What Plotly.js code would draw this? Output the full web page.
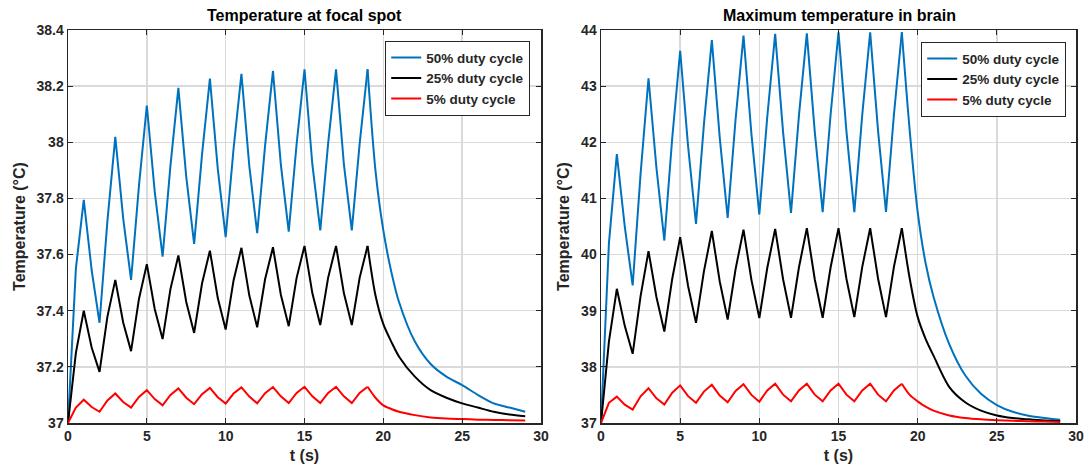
<!DOCTYPE html>
<html>
<head>
<meta charset="utf-8">
<script src="https://cdn.plot.ly/plotly-3.0.1.min.js"></script>
<style>html,body{margin:0;padding:0;background:#fff;}#chart{width:1085px;height:471px;}</style>
</head>
<body>
<div id="chart"></div>
<script>
// time (s)
const t = [0,0.5,1,1.5,2,2.5,3,3.5,4,4.5,5,5.5,6,6.5,7,7.5,8,8.5,9,9.5,10,10.5,11,11.5,12,12.5,13,13.5,14,14.5,15,15.5,16,16.5,17,17.5,18,18.5,19,19.5,20,20.5,21,22,23,24,25,26,27,28,29];
const pulseEnd = 19; // last heating peak (s)

// Temperature at focal spot
const focal50 = [37.00,37.55,37.795,37.545,37.357,37.72,38.019,37.729,37.51,37.845,38.131,37.824,37.593,37.918,38.194,37.877,37.638,37.956,38.227,37.905,37.662,37.976,38.244,37.915,37.676,37.988,38.254,37.92,37.682,37.994,38.26,37.92,37.686,37.996,38.26,37.92,37.686,37.996,38.26,37.90,37.686,37.54,37.43,37.29,37.21,37.165,37.135,37.10,37.07,37.055,37.04];
const focal25 = [37.00,37.25,37.40,37.269,37.182,37.379,37.51,37.358,37.256,37.442,37.566,37.406,37.299,37.478,37.597,37.431,37.321,37.497,37.614,37.445,37.333,37.508,37.624,37.454,37.341,37.512,37.626,37.457,37.345,37.517,37.631,37.462,37.349,37.518,37.631,37.462,37.349,37.518,37.631,37.455,37.352,37.29,37.236,37.165,37.117,37.09,37.07,37.055,37.04,37.03,37.024];
const focal5 = [37.00,37.055,37.083,37.057,37.04,37.08,37.105,37.075,37.055,37.093,37.117,37.085,37.063,37.100,37.123,37.090,37.067,37.103,37.125,37.092,37.069,37.105,37.127,37.094,37.070,37.106,37.128,37.095,37.071,37.107,37.129,37.095,37.071,37.107,37.129,37.095,37.071,37.107,37.129,37.09,37.063,37.05,37.04,37.028,37.02,37.016,37.014,37.012,37.011,37.01,37.009];

// Maximum temperature in brain
const brain50 = [37.00,40.2,41.79,40.50,39.45,41.44,43.14,41.55,40.25,42.08,43.63,41.93,40.547,42.32,43.82,42.08,40.654,42.41,43.90,42.15,40.713,42.45,43.93,42.18,40.743,42.47,43.94,42.19,40.755,42.49,43.96,42.20,40.755,42.49,43.96,42.20,40.76,42.49,43.96,42.20,40.76,39.85,39.25,38.40,37.85,37.52,37.32,37.20,37.13,37.09,37.06];
const brain25 = [37.00,38.45,39.39,38.73,38.233,39.26,40.06,39.245,38.63,39.57,40.31,39.44,38.785,39.70,40.42,39.52,38.844,39.74,40.445,39.55,38.87,39.76,40.458,39.56,38.874,39.77,40.47,39.56,38.875,39.77,40.47,39.57,38.886,39.78,40.47,39.57,38.886,39.78,40.47,39.57,38.89,38.5,38.2,37.64,37.37,37.22,37.135,37.09,37.065,37.045,37.035];
const brain5 = [37.00,37.36,37.47,37.327,37.24,37.476,37.62,37.44,37.33,37.54,37.67,37.478,37.36,37.56,37.68,37.49,37.37,37.57,37.69,37.50,37.38,37.58,37.70,37.505,37.385,37.58,37.70,37.505,37.385,37.58,37.70,37.505,37.385,37.58,37.70,37.505,37.385,37.58,37.70,37.50,37.385,37.29,37.22,37.135,37.09,37.065,37.05,37.04,37.03,37.025,37.02];

const seriesNames = ['50% duty cycle','25% duty cycle','5% duty cycle'];
const seriesColors = ['#0072BD','#000000','#FF0000'];
const panelTitles = ['Temperature at focal spot','Maximum temperature in brain'];

const FONT = 'Liberation Sans, Arial, Helvetica, sans-serif';
const LW = 2;
const k = t.indexOf(pulseEnd);

const traces = [];
function addPanel(list, xa, ya, lg) {
  list.forEach((y, i) => {
    traces.push({x: t.slice(0, k + 1), y: y.slice(0, k + 1), type: 'scatter', mode: 'lines', name: seriesNames[i],
      line: {color: seriesColors[i], width: LW}, xaxis: xa, yaxis: ya, legend: lg, legendgroup: lg + i});
    traces.push({x: t.slice(k), y: y.slice(k), type: 'scatter', mode: 'lines', name: seriesNames[i], showlegend: false,
      line: {color: seriesColors[i], width: LW, shape: 'spline', smoothing: 0.8}, xaxis: xa, yaxis: ya, legend: lg, legendgroup: lg + i});
  });
}
addPanel([focal50, focal25, focal5], 'x', 'y', 'legend');
addPanel([brain50, brain25, brain5], 'x2', 'y2', 'legend2');

const W = 1085, H = 471;
const px = v => v / W;
const py = v => 1 - v / H;

const tickFont = {family: FONT, size: 14, color: '#262626', weight: 'bold'};
const axisCommon = {
  showline: true, linecolor: '#262626', linewidth: 1.5, mirror: 'ticks',
  ticks: 'inside', ticklen: 5, tickwidth: 1.2, tickcolor: '#262626',
  showgrid: true, gridcolor: '#dadada', gridwidth: 1.5,
  zeroline: false, tickfont: tickFont, fixedrange: true
};
const xTitle = {text: 't (s)', font: {family: FONT, size: 16, color: '#262626', weight: 'bold'}, standoff: 6};
const yTitle = {text: 'Temperature (°C)', font: {family: FONT, size: 16, color: '#262626', weight: 'bold'}, standoff: 7};

const yDom = [py(423), py(30)];
const legendCommon = {xanchor: 'right', yanchor: 'top', bgcolor: '#ffffff',
  bordercolor: '#262626', borderwidth: 1.2, font: {family: FONT, size: 13.5, color: '#262626', weight: 'bold'},
  tracegroupgap: 0, itemwidth: 30};
const layout = {
  width: W, height: H,
  margin: {l: 0, r: 0, t: 0, b: 0},
  paper_bgcolor: '#ffffff', plot_bgcolor: '#ffffff',
  font: {family: FONT},
  xaxis: Object.assign({}, axisCommon, {domain: [px(68), px(541)], range: [0, 30], dtick: 5, tick0: 0, anchor: 'y', title: xTitle}),
  yaxis: Object.assign({}, axisCommon, {domain: yDom, range: [37, 38.4], dtick: 0.2, tick0: 37, anchor: 'x', title: yTitle}),
  xaxis2: Object.assign({}, axisCommon, {domain: [px(601), px(1076)], range: [0, 30], dtick: 5, tick0: 0, anchor: 'y2', title: xTitle}),
  yaxis2: Object.assign({}, axisCommon, {domain: yDom, range: [37, 44], dtick: 1, tick0: 37, anchor: 'x2', title: yTitle}),
  legend: Object.assign({}, legendCommon, {x: px(530), y: py(41)}),
  legend2: Object.assign({}, legendCommon, {x: px(1066), y: py(42)}),
  showlegend: true,
  annotations: [
    {text: panelTitles[0], xref: 'paper', yref: 'paper', x: px(304.5), y: py(16), xanchor: 'center', yanchor: 'middle',
      showarrow: false, font: {family: FONT, size: 16, color: '#000000', weight: 'bold'}},
    {text: panelTitles[1], xref: 'paper', yref: 'paper', x: px(839.5), y: py(16), xanchor: 'center', yanchor: 'middle',
      showarrow: false, font: {family: FONT, size: 16, color: '#000000', weight: 'bold'}}
  ]
};

Plotly.newPlot('chart', traces, layout, {displayModeBar: false, staticPlot: true});
</script>
</body>
</html>
